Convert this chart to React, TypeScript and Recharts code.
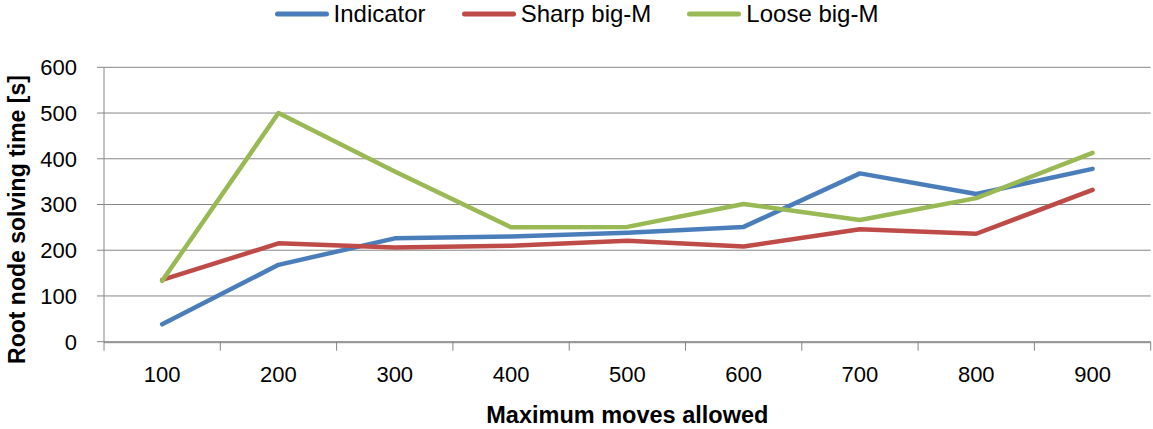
import React from 'react';
import {
  ComposedChart,
  Line,
  XAxis,
  YAxis,
  CartesianGrid,
  Legend,
  Label,
  Text,
} from 'recharts';

// Root node solving time per move limit, for three formulations
const moves = ['100', '200', '300', '400', '500', '600', '700', '800', '900'];
const indicator = [38, 168, 226, 230, 238, 251, 368, 323, 378];
const sharpBigM = [135, 215, 206, 210, 221, 208, 246, 236, 332];
const looseBigM = [133, 500, 372, 250, 251, 301, 266, 314, 413];

const yTicks = [0, 100, 200, 300, 400, 500, 600];
// category boundaries, used for the tick marks between labels
const boundaryTicks = [0, 1, 2, 3, 4, 5, 6, 7, 8, 9];

const FONT = '"Liberation Sans", Arial, sans-serif';
const GRID = '#868686';

const series = [
  { key: 'indicator', name: 'Indicator', color: '#4A7EBB', values: indicator },
  { key: 'sharp', name: 'Sharp big-M', color: '#BE4B48', values: sharpBigM },
  { key: 'loose', name: 'Loose big-M', color: '#98B954', values: looseBigM },
];

// slot: the middle of each category on a 0..N boundary scale
const data = moves.map((m, i) => {
  const row: Record<string, string | number> = { moves: m, slot: i + 0.5 };
  series.forEach((s) => {
    row[s.key] = s.values[i];
  });
  return row;
});

function LegendContent() {
  return (
    <div
      style={{
        display: 'flex',
        justifyContent: 'center',
        alignItems: 'center',
        height: 28,
        fontFamily: FONT,
        fontSize: 24,
        color: '#000',
      }}
    >
      {series.map((s, i) => (
        <div
          key={s.key}
          style={{ display: 'flex', alignItems: 'center', marginLeft: i ? 36 : 0 }}
        >
          <svg width={54} height={6} style={{ display: 'block' }}>
            <line
              x1={2.5}
              y1={3}
              x2={51.5}
              y2={3}
              stroke={s.color}
              strokeWidth={5}
              strokeLinecap="round"
            />
          </svg>
          <span style={{ marginLeft: 5, lineHeight: '28px' }}>{s.name}</span>
        </div>
      ))}
    </div>
  );
}

function YTitle(props: any) {
  const vb = props.viewBox;
  return (
    <Text
      x={vb.x + 17}
      y={vb.y + vb.height / 2 + 15}
      angle={-90}
      textAnchor="middle"
      verticalAnchor="middle"
      fontFamily={FONT}
      fontSize={23}
      fontWeight="bold"
      fill="#000"
    >
      Root node solving time [s]
    </Text>
  );
}

const NoLabel = () => <g />;

export default function App() {
  return (
    <div style={{ position: 'absolute', left: 0, top: 0, background: '#fff' }}>
      <ComposedChart
        width={1153}
        height={429}
        data={data}
        margin={{ top: 39.3, right: 2.3, bottom: 26.3, left: 0 }}
      >
        <Legend
          verticalAlign="top"
          align="center"
          content={<LegendContent />}
          wrapperStyle={{ top: 0, left: 0, width: 1153, height: 28 }}
        />
        <CartesianGrid vertical={false} stroke={GRID} strokeWidth={1} />
        <XAxis
          xAxisId="bounds"
          dataKey="slot"
          type="number"
          domain={[0, 9]}
          ticks={boundaryTicks}
          allowDataOverflow
          height={1}
          axisLine={false}
          tick={<NoLabel />}
          tickSize={9}
          tickLine={{ stroke: GRID, strokeWidth: 1 }}
        />
        <XAxis
          xAxisId="cat"
          dataKey="moves"
          scale="band"
          height={60}
          interval={0}
          axisLine={{ stroke: GRID, strokeWidth: 1 }}
          tickLine={false}
          tickSize={0}
          tickMargin={24}
          tick={{ fontFamily: FONT, fontSize: 22, fill: '#000' }}
        >
          <Label
            value="Maximum moves allowed"
            position="insideBottom"
            offset={-20}
            fontFamily={FONT}
            fontSize={23.5}
            fontWeight="bold"
            fill="#000"
          />
        </XAxis>
        <YAxis
          width={104}
          domain={[0, 600]}
          ticks={yTicks}
          interval={0}
          axisLine={{ stroke: GRID, strokeWidth: 1 }}
          tickLine={{ stroke: GRID, strokeWidth: 1 }}
          tickSize={7}
          tickMargin={20}
          tick={{ fontFamily: FONT, fontSize: 22, fill: '#000' }}
        >
          <Label content={<YTitle />} />
        </YAxis>
        {series.map((s) => (
          <Line
            key={s.key}
            xAxisId="cat"
            dataKey={s.key}
            name={s.name}
            type="linear"
            stroke={s.color}
            strokeWidth={4.5}
            strokeLinejoin="round"
            strokeLinecap="round"
            dot={false}
            activeDot={false}
            isAnimationActive={false}
          />
        ))}
      </ComposedChart>
    </div>
  );
}
